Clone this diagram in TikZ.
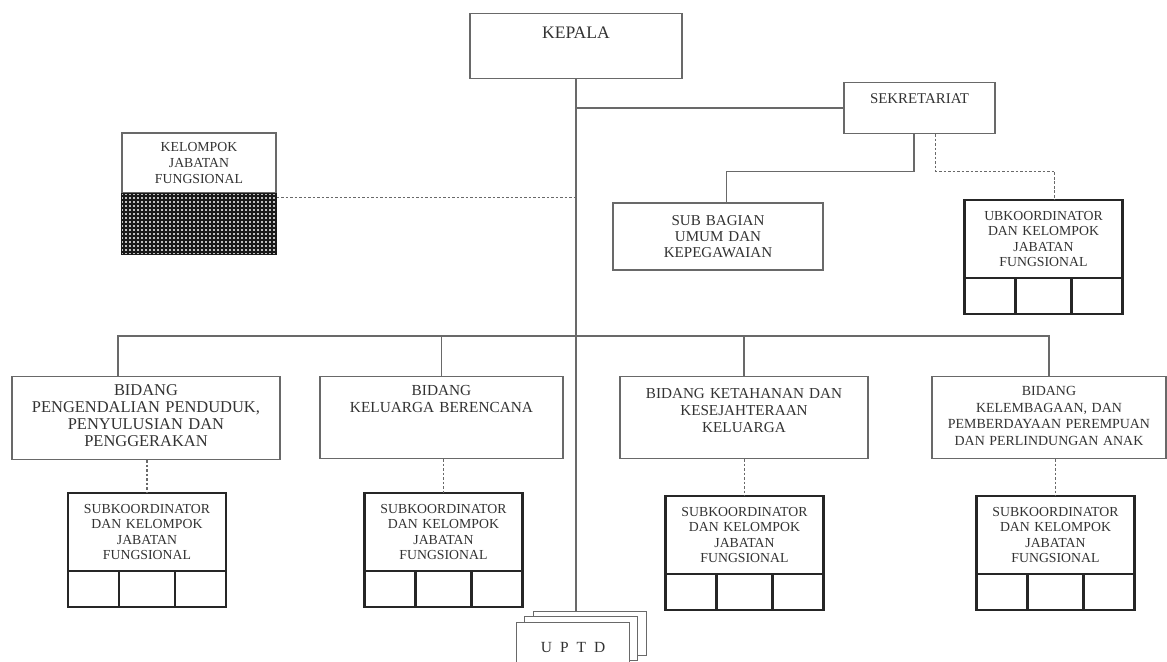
\documentclass[tikz,border=0pt]{standalone}
\usepackage{fontspec}
\setmainfont{Liberation Serif}
\definecolor{linegray}{RGB}{105,105,105}
\definecolor{textgray}{RGB}{50,50,50}
\begin{document}
\begin{tikzpicture}[
	x=0.025cm, y=-0.025cm,
	every node/.style={text=textgray},
	plainbox/.style={shape=rectangle, draw=linegray, line width=0.8pt, align=center, inner sep=0pt},
	topbox/.style={plainbox, anchor=north},
	subbox/.style={shape=rectangle, draw=black!85, line width=1.5pt, align=center, inner sep=0pt, outer sep=0pt, anchor=north, text width=3.8cm, minimum width=3.95cm, minimum height=1.95cm, font=\fontsize{9.8}{10.9}\selectfont},
	cellbox/.style={shape=rectangle, draw=black!85, line width=1.5pt, inner sep=0pt, outer sep=0pt, minimum height=0.9cm, anchor=north west},
	conn/.style={draw=linegray, line width=0.9pt},
	dashconn/.style={draw=linegray, line width=0.9pt, dash pattern=on 2pt off 1.2pt},
	pagebox/.style={shape=rectangle, draw=linegray, line width=0.8pt, fill=white, minimum width=2.825cm, minimum height=1.1cm, anchor=north west},
]
\useasboundingbox (0,0) rectangle (1167,662);

% pimpinan dan sekretariat
\node[topbox, text width=5cm, minimum width=5.3cm, text height=0.625cm, text depth=1.0cm, font=\fontsize{12.5}{14}\selectfont] (kepala) at (576,13) {KEPALA};
\node[topbox, text width=3.6cm, minimum width=3.775cm, text height=0.525cm, text depth=0.75cm, font=\fontsize{10.6}{12}\selectfont] (sekretariat) at (919.5,82) {SEKRETARIAT};
\node[plainbox, text width=5cm, minimum width=5.25cm, minimum height=1.675cm, font=\fontsize{10.7}{11.4}\selectfont] (subbagian) at (718,236.5) {SUB BAGIAN\\UMUM DAN\\KEPEGAWAIAN};
\node[plainbox, text width=3.7cm, minimum width=3.85cm, minimum height=1.5cm, font=\fontsize{9.8}{11.7}\selectfont] (kelompok) at (199,163) {KELOMPOK\\JABATAN\\FUNGSIONAL};
\fill[black!25] ([yshift=-1.525cm]kelompok.south west) rectangle (kelompok.south east);
\draw[black!90, line width=1pt, step=0.1cm] ([yshift=-1.525cm]kelompok.south west) grid (kelompok.south east);
\draw[black!90, line width=1pt] ([yshift=-1.525cm]kelompok.south west) rectangle (kelompok.south east);

% bidang
\node[topbox, text width=6.5cm, minimum width=6.7cm, text height=0.475cm, text depth=1.6cm, font=\fontsize{11.7}{12}\selectfont] (bidangA) at (146,376) {BIDANG\\PENGENDALIAN PENDUDUK,\\PENYULUSIAN DAN\\PENGGERAKAN};
\node[topbox, text width=5.9cm, minimum width=6.075cm, text height=0.475cm, text depth=1.575cm, font=\fontsize{10.9}{12}\selectfont] (bidangB) at (441.5,376) {BIDANG\\KELUARGA BERENCANA};
\node[topbox, text width=6cm, minimum width=6.2cm, text height=0.55cm, text depth=1.5cm, font=\fontsize{10.8}{12}\selectfont] (bidangC) at (744,376) {BIDANG KETAHANAN DAN\\KESEJAHTERAAN\\KELUARGA};
\node[topbox, text width=5.75cm, minimum width=5.85cm, text height=0.475cm, text depth=1.575cm, font=\fontsize{9.9}{11.8}\selectfont] (bidangD) at (1049,376) {BIDANG\\KELEMBAGAAN, DAN\\PEMBERDAYAAN PEREMPUAN\\DAN PERLINDUNGAN ANAK};

% subkoordinator
\node[subbox] (subS) at (1043.5,200) {UBKOORDINATOR\\DAN KELOMPOK\\JABATAN\\FUNGSIONAL};
\node[subbox] (subA) at (147,493) {SUBKOORDINATOR\\DAN KELOMPOK\\JABATAN\\FUNGSIONAL};
\node[subbox] (subB) at (443.5,493) {SUBKOORDINATOR\\DAN KELOMPOK\\JABATAN\\FUNGSIONAL};
\node[subbox] (subC) at (744.5,496) {SUBKOORDINATOR\\DAN KELOMPOK\\JABATAN\\FUNGSIONAL};
\node[subbox] (subD) at (1055.5,496) {SUBKOORDINATOR\\DAN KELOMPOK\\JABATAN\\FUNGSIONAL};

\node[cellbox, minimum width=1.275cm] (subS1) at (subS.south west) {};
\node[cellbox, minimum width=1.4cm] (subS2) at (subS1.north east) {};
\node[cellbox, minimum width=1.275cm] (subS3) at (subS2.north east) {};
\node[cellbox, minimum width=1.275cm] (subA1) at (subA.south west) {};
\node[cellbox, minimum width=1.4cm] (subA2) at (subA1.north east) {};
\node[cellbox, minimum width=1.275cm] (subA3) at (subA2.north east) {};
\node[cellbox, minimum width=1.275cm] (subB1) at (subB.south west) {};
\node[cellbox, minimum width=1.4cm] (subB2) at (subB1.north east) {};
\node[cellbox, minimum width=1.275cm] (subB3) at (subB2.north east) {};
\node[cellbox, minimum width=1.275cm] (subC1) at (subC.south west) {};
\node[cellbox, minimum width=1.4cm] (subC2) at (subC1.north east) {};
\node[cellbox, minimum width=1.275cm] (subC3) at (subC2.north east) {};
\node[cellbox, minimum width=1.275cm] (subD1) at (subD.south west) {};
\node[cellbox, minimum width=1.4cm] (subD2) at (subD1.north east) {};
\node[cellbox, minimum width=1.275cm] (subD3) at (subD2.north east) {};

% uptd
\node[pagebox] (uptdC) at (533,611) {};
\node[pagebox] (uptdB) at (524,616) {};
\node[pagebox, minimum height=1.25cm, font={\fontsize{11}{13}\selectfont\spaceskip=0.2cm\relax}] (uptdA) at (516,622) {U P T D};

% garis
\draw[conn] (kepala.south) -- (kepala.south |- uptdC.north);
\draw[conn] (kepala.south |- sekretariat.west) -- (sekretariat.west);
\draw[conn] ([xshift=-0.14cm]sekretariat.south) -- ++(0,37) -| ([xshift=0.22cm]subbagian.north);
\draw[dashconn] ([xshift=0.4cm]sekretariat.south) -- ++(0,37) -| ([xshift=0.28cm]subS.north);
\coordinate (kelompokout) at ([yshift=-0.1cm]kelompok.south east);
\draw[dashconn] (kelompokout) -- (kelompokout -| kepala.south);
\draw[conn] ([xshift=-0.7cm]bidangA.north) -- ++(0,-40) -| (bidangD.north);
\draw[conn] (bidangB.north) -- ++(0,-40);
\draw[conn] (bidangC.north) -- ++(0,-40);
\draw[dashconn] (subA.north |- bidangA.south) -- (subA.north);
\draw[dashconn] (subB.north |- bidangB.south) -- (subB.north);
\draw[dashconn] (subC.north |- bidangC.south) -- (subC.north);
\draw[dashconn] (subD.north |- bidangD.south) -- (subD.north);
\end{tikzpicture}
\end{document}
